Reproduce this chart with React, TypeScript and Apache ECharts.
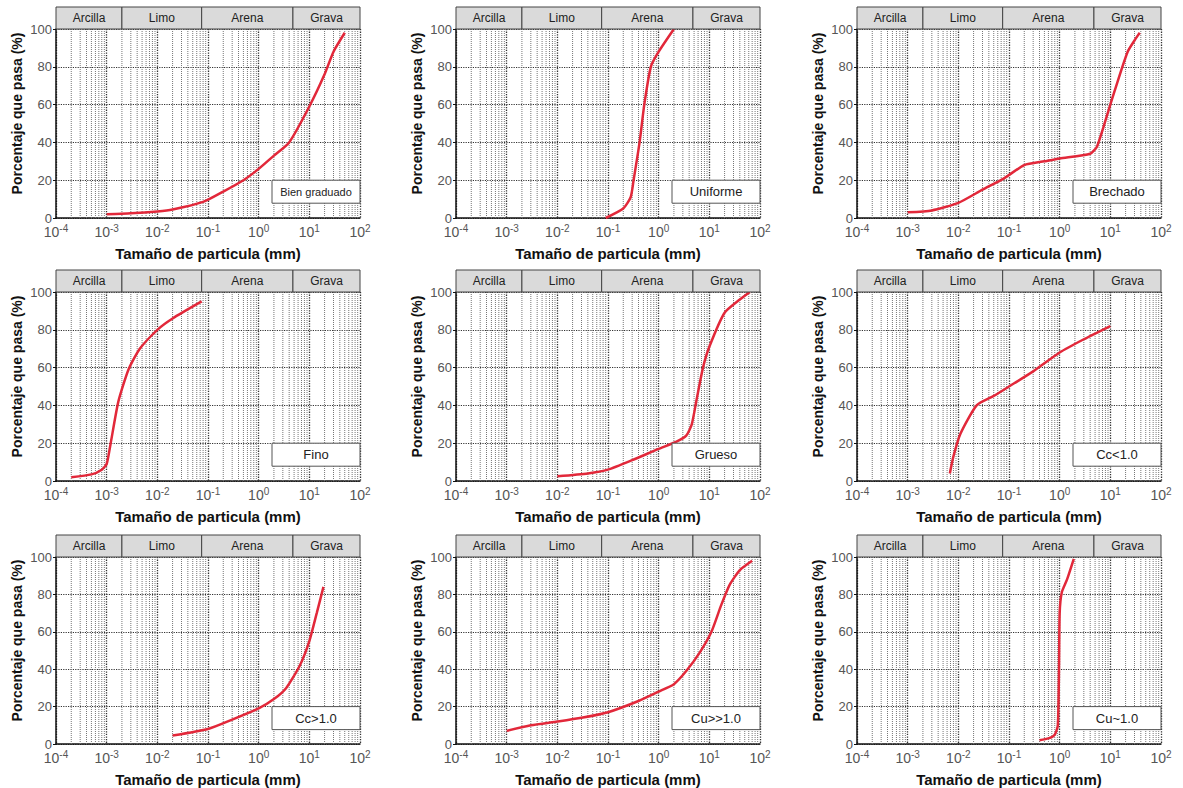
import React, { useEffect, useRef } from 'react';
import * as echarts from 'echarts';

// ---- axes / ticks ----
const xMin = 1e-4;
const xMax = 100;
const minorMultipliers = [2, 3, 4, 5, 6, 7, 8, 9];
const decades = [1e-4, 1e-3, 1e-2, 1e-1, 1, 10];
const yTickStep = 20;

// ---- soil classes (header band) ----
const soilClasses = ['Arcilla', 'Limo', 'Arena', 'Grava'];
const classBounds = [1e-4, 0.002, 0.075, 4.75, 100];

// ---- panel labels ----
const panelLabels = ['Bien graduado', 'Uniforme', 'Brechado', 'Fino', 'Grueso', 'Cc<1.0', 'Cc>1.0', 'Cu>>1.0', 'Cu~1.0'];

// ---- curves: [size mm, % passing] ----
const bienGraduado = [[0.001, 2], [0.003, 2.5], [0.01, 3.5], [0.02, 4.5], [0.08, 8.5], [0.2, 14], [0.5, 20], [1, 26], [2, 33], [4, 40], [10, 59], [20, 76], [30, 88], [50, 98]];
const uniforme = [[0.09, 0], [0.2, 5], [0.28, 11], [0.32, 20], [0.42, 40], [0.52, 60], [0.7, 80], [1, 88], [2, 100]];
const brechado = [[0.001, 3], [0.003, 4], [0.01, 8], [0.03, 15], [0.08, 21], [0.2, 28], [0.5, 30], [1, 31.5], [4, 34], [5.5, 38], [10, 60], [22, 88], [38, 98]];
const fino = [[0.0002, 2], [0.0005, 3.5], [0.0008, 6], [0.001, 9], [0.0012, 20], [0.0017, 42], [0.0027, 59], [0.0045, 70], [0.01, 80], [0.02, 86], [0.075, 95]];
const grueso = [[0.01, 2.5], [0.04, 4], [0.1, 6], [0.3, 11], [1, 17], [2.3, 21], [3.5, 24], [4.5, 30], [5.6, 43], [7.5, 60], [10, 71], [20, 89], [40, 96], [63, 100]];
const ccMenor = [[0.0068, 4], [0.008, 13], [0.011, 25], [0.023, 40], [0.05, 45], [0.1, 50], [0.3, 58], [1, 68], [3, 75], [10, 82]];
const ccMayor = [[0.02, 4.5], [0.1, 8], [0.3, 13], [1, 19], [2, 24], [3.5, 30], [6.5, 42], [10, 55], [14, 70], [19, 84]];
const cuMuchoMayor = [[0.001, 7], [0.003, 10], [0.01, 12], [0.03, 14], [0.1, 17], [0.4, 23], [1, 28], [2, 32], [3.5, 39], [6.5, 49], [11, 60], [17, 74], [25, 85], [40, 93], [70, 98]];
const cuUno = [[0.4, 2], [0.6, 3], [0.8, 5], [0.92, 10], [0.97, 40], [1.0, 70], [1.1, 81], [1.4, 88], [1.9, 99]];

const curves = [bienGraduado, uniforme, brechado, fino, grueso, ccMenor, ccMayor, cuMuchoMayor, cuUno];

// ---- layout ----
const colLeft = [56, 456, 857];
const rowTop = [29, 292, 557];
const plotW = 304;
const plotH = 189;
const headerH = 22;
const boxW = 88;
const boxH = 23;

const FONT = '"Liberation Sans", Arial, Helvetica, sans-serif';
const RED = '#e2283a';

export default function App() {
  const ref = useRef<HTMLDivElement>(null);
  useEffect(() => {
    if (!ref.current) return;
    const chart = echarts.init(ref.current, undefined, { renderer: 'svg' });

    // minor vertical grid lines: each one is a separate segment from y=0 to y=100
    const minorGrid: any[] = [];
    decades.forEach((d) =>
      minorMultipliers.forEach((m) => {
        const v = d * m;
        minorGrid.push([v, 0], [v, 100], [v, '-']);
      })
    );

    const grids: any[] = [];
    const xAxes: any[] = [];
    const yAxes: any[] = [];
    const series: any[] = [];
    for (let i = 0; i < 9; i++) {
      const r = Math.floor(i / 3);
      const c = i % 3;
      grids.push({ left: colLeft[c], top: rowTop[r], width: plotW, height: plotH, containLabel: false });
      xAxes.push({
        type: 'log', logBase: 10, min: xMin, max: xMax, gridIndex: i,
        name: 'Tamaño de particula (mm)', nameLocation: 'middle', nameGap: 28,
        nameTextStyle: { fontFamily: FONT, fontWeight: 'bold', fontSize: 15, color: '#111' },
        axisLine: { show: true, onZero: false, lineStyle: { color: '#111', width: 1.5 } },
        axisTick: { show: false },
        splitLine: { show: true, lineStyle: { type: 'dotted', color: '#333', width: 1.3 } },
        axisLabel: {
          margin: 5,
          formatter: (v: number) => `{b|10}{s|${Math.round(Math.log10(v))}}`,
          rich: {
            b: { fontFamily: FONT, fontSize: 14, color: '#555' },
            s: { fontFamily: FONT, fontSize: 10, color: '#555', padding: [0, 0, 8, 0] },
          },
        },
      });
      yAxes.push({
        type: 'value', min: 0, max: 100, interval: yTickStep, gridIndex: i,
        name: 'Porcentaje que pasa (%)', nameLocation: 'middle', nameGap: 32,
        nameTextStyle: { fontFamily: FONT, fontWeight: 'bold', fontSize: 14, color: '#111', padding: [0, 0, 0, 20] },
        axisLine: { show: true, lineStyle: { color: '#111', width: 1.5 } },
        axisTick: { show: true, length: 3, lineStyle: { color: '#111' } },
        axisLabel: { fontFamily: FONT, fontSize: 13, color: '#555', margin: 4 },
        splitLine: { show: true, lineStyle: { type: 'dotted', color: '#333', width: 1.2 } },
      });
      series.push({
        type: 'line', xAxisIndex: i, yAxisIndex: i, data: minorGrid, silent: true, z: 1,
        showSymbol: false, symbol: 'none', connectNulls: false,
        lineStyle: { type: 'dotted', color: '#777', width: 1 },
      });
      series.push({
        type: 'line', xAxisIndex: i, yAxisIndex: i, data: curves[i], z: 5,
        showSymbol: false, symbol: 'none', smooth: 0.2,
        lineStyle: { color: RED, width: 2.5 },
      });
    }

    chart.setOption({
      animation: false,
      backgroundColor: '#fff',
      grid: grids,
      xAxis: xAxes,
      yAxis: yAxes,
      series,
    });

    const graphics: any[] = [];
    for (let i = 0; i < 9; i++) {
      const xs = classBounds.map((v) => chart.convertToPixel({ xAxisIndex: i } as any, v) as number);
      const yTop = chart.convertToPixel({ yAxisIndex: i } as any, 100) as number;
      const y20 = chart.convertToPixel({ yAxisIndex: i } as any, 20) as number;
      for (let k = 0; k < soilClasses.length; k++) {
        graphics.push({
          type: 'rect', z: 10,
          shape: { x: xs[k], y: yTop - headerH, width: xs[k + 1] - xs[k], height: headerH },
          style: { fill: '#dadada', stroke: '#444', lineWidth: 1 },
        });
        graphics.push({
          type: 'text', z: 11,
          x: (xs[k] + xs[k + 1]) / 2, y: yTop - headerH / 2,
          style: { text: soilClasses[k], fontFamily: FONT, fontSize: 12, fill: '#222', align: 'center', verticalAlign: 'middle' },
        });
      }
      const xR = xs[4];
      graphics.push({
        type: 'rect', z: 10,
        shape: { x: xR - boxW, y: y20, width: boxW, height: boxH },
        style: { fill: '#fff', stroke: '#555', lineWidth: 1 },
      });
      graphics.push({
        type: 'text', z: 11,
        x: xR - boxW / 2, y: y20 + boxH / 2,
        style: { text: panelLabels[i], fontFamily: FONT, fontSize: i === 0 ? 11 : 13, fill: '#222', align: 'center', verticalAlign: 'middle' },
      });
    }
    chart.setOption({ graphic: graphics });

    return () => chart.dispose();
  }, []);
  return <div ref={ref} style={{ position: 'fixed', left: 0, top: 0, width: 1183, height: 788 }} />;
}
